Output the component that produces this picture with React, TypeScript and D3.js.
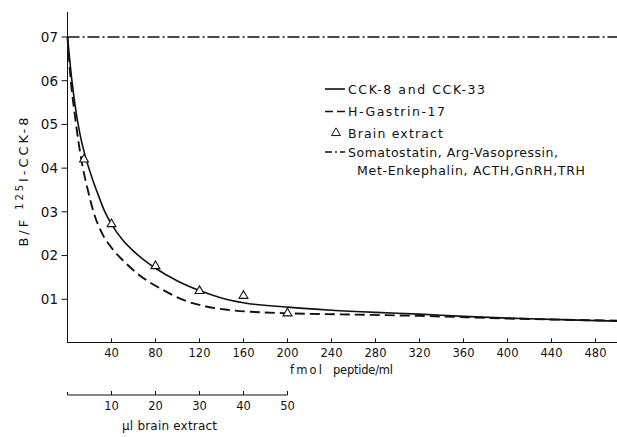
import React from "react";
import * as d3 from "d3";

const fmolTicks = [40, 80, 120, 160, 200, 240, 280, 320, 360, 400, 440, 480];
const yTicks = [0.1, 0.2, 0.3, 0.4, 0.5, 0.6, 0.7];
const yTickLabels = ["01", "02", "03", "04", "05", "06", "07"];
const ulTicks = [10, 20, 30, 40, 50];

// CCK-8 and CCK-33 (solid)
const cckX = [0, 4, 8, 12, 17, 22, 27, 34, 40, 50, 60, 70, 80, 100, 120, 140, 160, 200, 240, 280, 320, 360, 400, 440, 500];
const cckY = [0.70, 0.60, 0.525, 0.47, 0.42, 0.38, 0.345, 0.30, 0.272, 0.236, 0.21, 0.189, 0.171, 0.142, 0.12, 0.103, 0.092, 0.082, 0.075, 0.070, 0.066, 0.061, 0.057, 0.054, 0.050];
// H-Gastrin-17 (dashed)
const gasX = [0, 3, 6, 10, 14, 18, 24, 31, 40, 52, 63, 87, 108, 127, 145, 170, 200, 260, 320, 400, 500];
const gasY = [0.70, 0.60, 0.535, 0.46, 0.40, 0.355, 0.297, 0.253, 0.218, 0.185, 0.16, 0.121, 0.096, 0.083, 0.076, 0.071, 0.068, 0.065, 0.062, 0.056, 0.051];
// Brain extract (triangles), x in fmol equivalent
const brainX = [15, 40, 80, 120, 160, 200];
const brainY = [0.42, 0.272, 0.176, 0.119, 0.108, 0.068];
// Somatostatin etc. (flat)
const flatX = [0, 500];
const flatY = [0.70, 0.70];

const FONT = "'DejaVu Sans', 'Open Sans', sans-serif";

export default function App() {
  const x = d3.scaleLinear().domain([0, 500]).range([67.5, 617.5]);
  const y = d3.scaleLinear().domain([0, 0.7]).range([343, 37]);
  const ul = d3.scaleLinear().domain([0, 50]).range([67.5, 287.5]);

  const line = d3
    .line<[number, number]>()
    .x((d) => x(d[0]))
    .y((d) => y(d[1]))
    .curve(d3.curveMonotoneX);

  const cck = cckX.map((v, i) => [v, cckY[i]] as [number, number]);
  const gas = gasX.map((v, i) => [v, gasY[i]] as [number, number]);
  const flat = flatX.map((v, i) => [v, flatY[i]] as [number, number]);
  const tri = d3.symbol().type(d3.symbolTriangle).size(34)();

  const ink = "#111";
  const axisY0 = y(0);
  const ulAxisY = 395;

  return (
    <svg
      width={617}
      height={437}
      style={{ position: "absolute", left: 0, top: 0, background: "#fff" }}
      fontFamily={FONT}
    >
      <rect width={617} height={437} fill="#fff" />
      {/* y axis */}
      <line x1={x(0)} x2={x(0)} y1={12} y2={axisY0} stroke={ink} strokeWidth={1} />
      {yTicks.map((t, i) => (
        <g key={t}>
          <line x1={x(0) - 6} x2={x(0)} y1={y(t)} y2={y(t)} stroke={ink} strokeWidth={1} />
          <text x={58} y={y(t)} dy="0.36em" textAnchor="end" fontSize={13.5} fill={ink}>
            {yTickLabels[i]}
          </text>
        </g>
      ))}
      {/* y title */}
      <text
        transform={`translate(28,${182}) rotate(-90)`}
        textAnchor="middle"
        fontSize={13}
        fill={ink}
        textLength={129}
        lengthAdjust="spacing"
      >
        B/F <tspan fontSize={10} dy={-5}>125</tspan>
        <tspan dy={5}>I-CCK-8</tspan>
      </text>

      {/* x axis (fmol) */}
      <line x1={x(0)} x2={617} y1={axisY0 - 0.5} y2={axisY0 - 0.5} stroke={ink} strokeWidth={1} />
      {fmolTicks.map((t) => (
        <g key={t}>
          <line x1={x(t)} x2={x(t)} y1={axisY0 - 4.5} y2={axisY0} stroke={ink} strokeWidth={1} />
          <text x={x(t)} y={357} textAnchor="middle" fontSize={11.5} fill={ink}>
            {t}
          </text>
        </g>
      ))}
      <text x={290} y={374} fontSize={11.5} fill={ink} textLength={32} lengthAdjust="spacing">
        fmol
      </text>
      <text x={333} y={374} fontSize={11.5} fill={ink} textLength={60} lengthAdjust="spacing">
        peptide/ml
      </text>

      {/* µl brain extract axis */}
      <line x1={ul(0)} x2={ul(50)} y1={ulAxisY} y2={ulAxisY} stroke={ink} strokeWidth={1} />
      <line x1={ul(0)} x2={ul(0)} y1={ulAxisY - 3} y2={ulAxisY} stroke={ink} strokeWidth={1} />
      {ulTicks.map((t) => (
        <g key={t}>
          <line x1={ul(t)} x2={ul(t)} y1={ulAxisY - 4} y2={ulAxisY} stroke={ink} strokeWidth={1} />
          <text x={ul(t)} y={410} textAnchor="middle" fontSize={11.5} fill={ink}>
            {t}
          </text>
        </g>
      ))}
      <text x={122} y={430} fontSize={12} fill={ink} textLength={95} lengthAdjust="spacing">
        µl brain extract
      </text>

      {/* curves */}
      <path d={line(flat) || ""} fill="none" stroke={ink} strokeWidth={1.6} strokeDasharray="12,3,2,3" />
      <path d={line(gas) || ""} fill="none" stroke={ink} strokeWidth={1.9} strokeDasharray="10,5" />
      <path d={line(cck) || ""} fill="none" stroke={ink} strokeWidth={1.6} />
      {brainX.map((v, i) => (
        <path
          key={v}
          d={tri || ""}
          transform={`translate(${x(v)},${y(brainY[i])})`}
          fill="#fff"
          stroke={ink}
          strokeWidth={1.1}
        />
      ))}

      {/* legend */}
      <line x1={325} x2={345} y1={89} y2={89} stroke={ink} strokeWidth={1.6} />
      <text x={348} y={89} dy="0.36em" fontSize={12.5} fill={ink} textLength={137} lengthAdjust="spacing">
        CCK-8 and CCK-33
      </text>
      <line x1={325} x2={345} y1={111.5} y2={111.5} stroke={ink} strokeWidth={1.6} strokeDasharray="8,4" />
      <text x={348} y={111.5} dy="0.36em" fontSize={12.5} fill={ink} textLength={97} lengthAdjust="spacing">
        H-Gastrin-17
      </text>
      <path d={tri || ""} transform="translate(336,133)" fill="#fff" stroke={ink} strokeWidth={1} />
      <text x={348} y={133} dy="0.36em" fontSize={12.5} fill={ink} textLength={95} lengthAdjust="spacing">
        Brain extract
      </text>
      <line x1={325} x2={345} y1={152} y2={152} stroke={ink} strokeWidth={1.6} strokeDasharray="7,3,2,3" />
      <text x={348} y={152} dy="0.36em" fontSize={12.5} fill={ink} textLength={210} lengthAdjust="spacing">
        Somatostatin, Arg-Vasopressin,
      </text>
      <text x={357} y={170} dy="0.36em" fontSize={12.5} fill={ink} textLength={228} lengthAdjust="spacing">
        Met-Enkephalin, ACTH,GnRH,TRH
      </text>
    </svg>
  );
}
